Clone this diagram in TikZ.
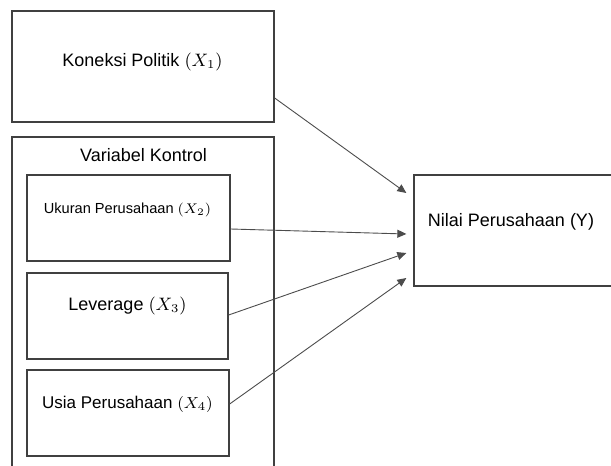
\documentclass[tikz,border=0pt]{standalone}
\usepackage{fontspec}
\setmainfont{Liberation Sans}
\usepackage{tikz}
\usetikzlibrary{arrows.meta,calc}

\begin{document}
\begin{tikzpicture}[x=.5pt,y=-.5pt,
  box/.style={draw=black!75,line width=.65pt,inner sep=0pt},
  lbl/.style={font=\fontsize{9}{11}\selectfont,inner sep=0pt},
  arr/.style={draw=black!70,line width=.45pt,-{Triangle[length=4.5pt,width=4pt]}}]
\clip (0,0) rectangle (611,466);
\node[box,minimum width=262*.5pt,minimum height=111*.5pt] (kp) at (143,66.5){};
\node[box,minimum width=262*.5pt,minimum height=360*.5pt] (ctrl) at (143,317){};
\node[box,minimum width=203*.5pt,minimum height=86*.5pt] (uk) at (128.5,218){};
\node[box,minimum width=201*.5pt,minimum height=86*.5pt] (lev) at (127.5,316){};
\node[box,minimum width=202*.5pt,minimum height=86*.5pt] (usia) at (128,413){};
\node[box,minimum width=210*.5pt,minimum height=111*.5pt] (nilai) at (519,230.5){};
% texts
\node[lbl] (kpt) at (142.5,62){Koneksi Politik $(X_1)$};
\node[lbl] (ctrlt) at (143.5,155){Variabel Kontrol};
\node[lbl,font=\fontsize{7.3}{9}\selectfont] (ukt) at (127.5,210){Ukuran Perusahaan $(X_2)$};
\node[lbl] (levt) at (127.5,306){Leverage $(X_3)$};
\node[lbl,font=\fontsize{8.5}{10}\selectfont] (usiat) at (127.5,404){Usia Perusahaan $(X_4)$};
\node[lbl] (nilait) at (511,222){Nilai Perusahaan (Y)};
% arrows
\draw[arr] ($(kp.east)+(0,31.5)$)--($(nilai.west)+(-7,-37.5)$);
\draw[arr] ($(uk.east)+(0,11)$)--($(nilai.west)+(-7,3.5)$);
\draw[arr] ($(lev.east)+(0,-1)$)--($(nilai.west)+(-7,22.5)$);
\draw[arr] ($(usia.east)+(0,-9)$)--($(nilai.west)+(-7,47.5)$);
\end{tikzpicture}
\end{document}
